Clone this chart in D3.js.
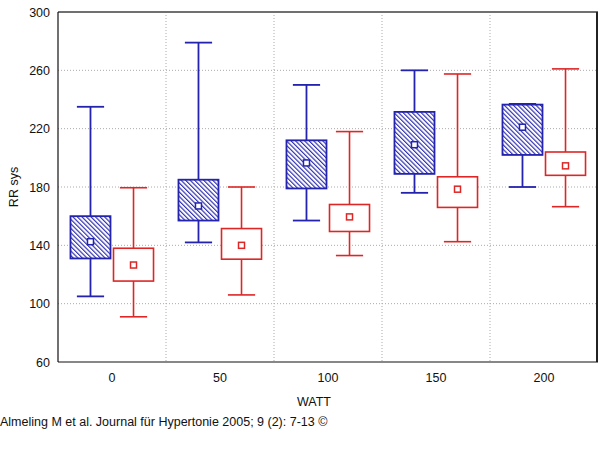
<!DOCTYPE html>
<html>
<head>
<meta charset="utf-8">
<script src="https://cdn.jsdelivr.net/npm/d3@7"></script>
<style>
  body { margin: 0; background: #fff; }
  text { font-family: "Liberation Sans", Arial, sans-serif; font-size: 12px; fill: #111; }
</style>
</head>
<body>
<svg id="chart" width="600" height="472"></svg>
<script>
// data
var watt = ["0", "50", "100", "150", "200"];
var yTicks = [60, 100, 140, 180, 220, 260, 300];

// group 1 (blue, hatched)
var blueMin  = [105, 142, 157, 176, 180];
var blueQ1   = [131, 157, 179, 189, 202];
var blueMid  = [142.5, 167, 196.5, 209, 221];
var blueQ3   = [160, 185, 212, 231.5, 236.5];
var blueMax  = [235, 279, 250, 260, 237];

// group 2 (red, open)
var redMin   = [91, 106, 133, 142.5, 166.5];
var redQ1    = [115.5, 130.5, 149.5, 166, 188];
var redMid   = [126.5, 140, 159.5, 178.5, 194.5];
var redQ3    = [138, 151.5, 168, 187, 204];
var redMax   = [179.5, 180, 218, 257.5, 261];

var margin = {left: 58, right: 2, top: 12, bottom: 110};
var width = 600, height = 472;
var svg = d3.select("#chart");

var x = d3.scaleBand().domain(watt).range([margin.left, width - margin.right]);
var inner = d3.scaleBand().domain(["blue", "red"]).range([0, x.bandwidth()])
  .paddingInner(0.07).paddingOuter(0.29);
var y = d3.scaleLinear().domain([60, 300]).range([height - margin.bottom, margin.top]);

var colors = {blue: "#2323ad", red: "#dd2626"};

// hatch pattern
svg.append("defs").append("pattern")
  .attr("id", "hatch")
  .attr("patternUnits", "userSpaceOnUse")
  .attr("width", 3.2).attr("height", 3.2)
  .attr("patternTransform", "rotate(-45)")
  .append("line")
    .attr("x1", 0.6).attr("y1", 0).attr("x2", 0.6).attr("y2", 3.2)
    .attr("stroke", colors.blue).attr("stroke-width", 1.1);

// grid
svg.append("g").selectAll("line")
  .data(yTicks.filter(function(d) { return d > 60 && d < 300; }))
  .enter().append("line")
    .attr("x1", margin.left).attr("x2", width - margin.right)
    .attr("y1", function(d) { return y(d); }).attr("y2", function(d) { return y(d); })
    .attr("stroke", "#aaa").attr("stroke-dasharray", "1,2");

svg.append("g").selectAll("line")
  .data(watt.slice(1))
  .enter().append("line")
    .attr("x1", function(d) { return x(d); }).attr("x2", function(d) { return x(d); })
    .attr("y1", y(300)).attr("y2", y(60))
    .attr("stroke", "#aaa").attr("stroke-dasharray", "1,2");

// frame
svg.append("line").attr("x1", margin.left).attr("x2", width - margin.right)
  .attr("y1", y(300)).attr("y2", y(300)).attr("stroke", "#707070").attr("stroke-width", 2);
svg.append("line").attr("x1", width - margin.right - 1).attr("x2", width - margin.right - 1)
  .attr("y1", y(300)).attr("y2", y(60)).attr("stroke", "#222").attr("stroke-width", 2);
svg.append("line").attr("x1", margin.left).attr("x2", width - margin.right)
  .attr("y1", y(60)).attr("y2", y(60)).attr("stroke", "#111").attr("stroke-width", 1.2);
svg.append("line").attr("x1", margin.left).attr("x2", margin.left)
  .attr("y1", y(300)).attr("y2", y(60)).attr("stroke", "#111").attr("stroke-width", 1.2);

// axes labels
var yAxis = d3.axisLeft(y).tickValues(yTicks).tickSize(0).tickPadding(8);
var gy = svg.append("g").attr("transform", "translate(" + margin.left + ",0)").call(yAxis);
gy.select(".domain").remove();
gy.selectAll("text").style("font-size", "12.5px").attr("fill", "#111");

var xAxis = d3.axisBottom(x).tickSize(0).tickPadding(11);
var gx = svg.append("g").attr("transform", "translate(0," + y(60) + ")").call(xAxis);
gx.select(".domain").remove();
gx.selectAll("text").style("font-size", "12.5px").attr("fill", "#111");

svg.append("text").attr("x", 314).attr("y", 406).attr("text-anchor", "middle")
  .style("font-size", "12.5px").text("WATT");
svg.append("text").attr("transform", "translate(18," + y(180) + ") rotate(-90)")
  .attr("text-anchor", "middle").style("font-size", "12.5px").text("RR sys");
svg.append("text").attr("x", 0).attr("y", 426).style("font-size", "12.5px")
  .text("Almeling M et al. Journal f\u00fcr Hypertonie 2005; 9 (2): 7-13 \u00a9");

// boxes
var series = [
  {key: "blue", min: blueMin, q1: blueQ1, mid: blueMid, q3: blueQ3, max: blueMax, fill: "url(#hatch)", sw: 1.8},
  {key: "red", min: redMin, q1: redQ1, mid: redMid, q3: redQ3, max: redMax, fill: "#fff", sw: 1.6}
];

series.forEach(function(s) {
  var bw = inner.bandwidth();
  var cap = bw * 0.68;
  var g = svg.append("g").attr("class", "series-" + s.key);
  watt.forEach(function(w, i) {
    var cx = x(w) + inner(s.key) + bw / 2;
    var col = colors[s.key];
    g.append("line").attr("x1", cx).attr("x2", cx)
      .attr("y1", y(s.max[i])).attr("y2", y(s.min[i]))
      .attr("stroke", col).attr("stroke-width", s.sw);
    g.append("line").attr("x1", cx - cap / 2).attr("x2", cx + cap / 2)
      .attr("y1", y(s.max[i])).attr("y2", y(s.max[i]))
      .attr("stroke", col).attr("stroke-width", s.sw);
    g.append("line").attr("x1", cx - cap / 2).attr("x2", cx + cap / 2)
      .attr("y1", y(s.min[i])).attr("y2", y(s.min[i]))
      .attr("stroke", col).attr("stroke-width", s.sw);
    // white under the box so the whisker line does not show through
    g.append("rect").attr("x", cx - bw / 2).attr("width", bw)
      .attr("y", y(s.q3[i])).attr("height", y(s.q1[i]) - y(s.q3[i]))
      .attr("fill", "#fff");
    g.append("rect").attr("x", cx - bw / 2).attr("width", bw)
      .attr("y", y(s.q3[i])).attr("height", y(s.q1[i]) - y(s.q3[i]))
      .attr("fill", s.fill).attr("stroke", col).attr("stroke-width", s.sw);
    g.append("rect").attr("x", cx - 3).attr("y", y(s.mid[i]) - 3)
      .attr("width", 6).attr("height", 6)
      .attr("fill", "#fff").attr("stroke", col).attr("stroke-width", 1.5);
  });
});
</script>
</body>
</html>
